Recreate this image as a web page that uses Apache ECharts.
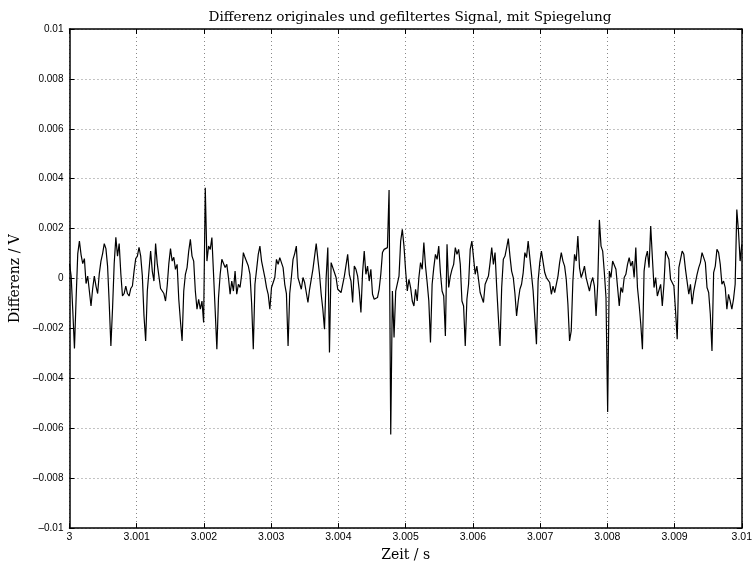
<!DOCTYPE html>
<html>
<head>
    <meta charset="utf-8">
    <title>Differenz originales und gefiltertes Signal</title>
    <script src="https://cdn.jsdelivr.net/npm/echarts@6/dist/echarts.min.js"></script>
    <style>
        html, body { margin: 0; padding: 0; background: #fff; }
    </style>
</head>
<body>
    <div id="main" style="width: 755px;height:567px;"></div>
    <script>
        // Abtastung: Startzeit, Dauer, Anzahl Intervalle
        var tStart = 3;
        var tSpan = 0.01;
        var nSteps = 406;

        // Differenz in mV, gleichmaessig abgetastet
        var diffMilliVolt = [
            0.60, 0.10, -1.30, -2.80, -0.80, 1.00, 1.50, 0.95, 0.60, 0.80,
            -0.20, 0.10, -0.50, -1.10, -0.40, 0.10, -0.30, -0.60, 0.20, 0.70,
            1.00, 1.40, 1.20, 0.50, -1.00, -2.70, -1.20, 0.60, 1.65, 0.90,
            1.40, 0.20, -0.70, -0.60, -0.30, -0.60, -0.70, -0.40, -0.30, 0.30,
            0.80, 0.90, 1.25, 0.90, 0.10, -1.50, -2.50, -0.50, 0.30, 1.10,
            0.30, -0.10, 1.40, 0.60, 0.10, -0.40, -0.50, -0.60, -0.90, -0.30,
            0.60, 1.20, 0.70, 0.85,
            0.37, 0.57, -0.83, -1.70, -2.50, -0.50,
            0.17, 0.44, 1.10, 1.57, 0.90, 0.70, -0.50, -1.23, -0.83, -1.23,
            -0.90, -1.76, 3.64, 0.70, 1.30, 1.17, 1.64, 0.17, -1.30, -2.83,
            -0.76, 0.17, 0.77, 0.84, 0.44, 0.57, 0.04, -0.63, -0.10, -0.50,
            0.30, -0.63, -0.23, -0.36, 0.17, 1.04, 0.84, 0.90, 0.50, 0.17,
            -1.00, -2.83, -0.23, 0.37, 0.97, 1.30, 0.70, 0.70, 0.04, -0.36,
            -0.63, -1.23, -0.36, -0.30, 0.04, 0.77, 0.57, 0.84, 0.77, 0.44,
            -0.23, -0.60, -2.70, -0.60, 0.04, 0.77, 1.00, 1.30, 0.04, 0.10,
            -0.43, 0.04, -0.16, -0.56, -0.96, -0.43, -0.03, 0.37, 0.44, 1.40,
            0.77, 0.17, -0.63, -1.23, -2.03, 0.04, 1.24, -2.96, 0.64, 0.57,
            0.24, 0.04, -0.43, -0.50, -0.56, -0.23, 0.10, 0.04, 0.97, 0.17,
            -0.10, -0.96, 0.50, 0.37, 0.10, -0.50, -1.36, 0.24, 1.10, 0.17,
            0.50, -0.10, 0.37, -0.63, -0.83, -0.83, -0.76, -0.43, 0.17, 1.04,
            1.17, 1.17, 1.24, 3.55, -6.25, -0.50, -2.36, -0.50, -0.43, 0.10,
            1.50, 1.97, 1.30, 0.30, -0.50, -0.03, -0.36, -0.90, -1.10, -0.43,
            -0.90, 0.04, 0.64, 0.37, 1.44, 0.50, -0.16, -0.90, -2.56, -0.23,
            0.44, 0.97, 0.77, 1.30, 0.24, -0.50, -0.70, -2.30, 1.37, -0.36,
            0.10, 0.37, 0.57, 1.24, 0.97, 1.17, 0.57, -0.90, -1.10, -2.70,
            -0.83, -0.23, 1.17, 1.50, 1.44, 0.17, 0.50, -0.03, -0.56, -0.76,
            -0.96, -0.23, -0.23, 0.10, 0.64, 1.24, 0.57, 1.04, -0.36, -1.56,
            -2.70, -0.36, 0.77, 0.90, 1.24, 1.60, 0.90, 0.30, 0.04, -0.60,
            -1.50, -0.90, -0.43, -0.23, 0.24, 1.04, 0.84, 1.50, 0.84, 0.84,
            -0.50, -1.56, -2.63, -0.10, 0.64, 1.10, 1.17, 0.24, 0.04, 0.10,
            -0.16, -0.63, -0.30, -0.56, -0.23, 0.10, 0.64, 1.04, 0.70, 0.50,
            -0.03, -1.03, -2.50, -2.10, -0.10, 0.97, 0.70, 1.70, 0.44, 0.04,
            0.24, 0.50, 0.04, -0.23, -0.50, -0.16, 0.04, -0.30, -1.50, -0.23,
            2.35, 1.30, 1.10, 0.24, -0.76, -5.35, 0.30, 0.04, 0.70, 0.77,
            0.37, -0.36, -1.10, -0.36, -0.56, 0.04, 0.17, 0.57, 0.84, 0.50,
            0.70, 0.04, 1.24, -0.36, -1.03, -1.83, -2.83, 0.30, 0.84, 1.10,
            0.44, 2.10, 0.84, -0.36, 0.04, -0.70, -0.63, -0.23, -1.10, -0.23,
            1.10, 1.17, 0.77, -0.03, 0.04, -0.30, -1.30, -2.43, 0.44, 0.77,
            1.10, 0.97, 0.37, 0.44, -0.63, -0.23, -1.03, -0.50, -0.56, 0.17,
            0.44, 0.64, 1.04, 0.84, 0.64, -0.36, -0.56, -1.43, -2.90, 0.24,
            0.50, 1.17, 1.04, 0.57, -0.23, -0.10, -0.36, -1.23, -0.63, -0.90,
            -1.23, -0.83, -0.23, 2.77, 1.90, 0.70, 1.37
        ];

        var xTicks = { min: 3, max: 3.01, step: 0.001 };
        var yTicks = { min: -0.01, max: 0.01, step: 0.002 };

        var points = [];
        for (var i = 0; i < diffMilliVolt.length; i++) {
            points.push([tStart + i * tSpan / nSteps, diffMilliVolt[i] / 1000]);
        }

        var fmt = function (v) {
            return String(parseFloat(v.toFixed(4))).replace('-', '\u2013');
        };

        var serif = 'DejaVu Serif';
        var sans = 'Liberation Sans';

        var myChart = echarts.init(document.getElementById('main'));
        var option = {
            animation: false,
            backgroundColor: '#fff',
            title: {
                text: 'Differenz originales und gefiltertes Signal, mit Spiegelung',
                left: 405,
                top: 5,
                textAlign: 'center',
                textStyle: { fontFamily: serif, fontSize: 13.6, fontWeight: 'normal', color: '#000' }
            },
            grid: { left: 69, right: 10, top: 29, bottom: 34, show: false },
            xAxis: [
                {
                    type: 'value',
                    position: 'bottom',
                    min: xTicks.min, max: xTicks.max, interval: xTicks.step,
                    name: 'Zeit / s',
                    nameLocation: 'middle',
                    nameGap: 15,
                    nameTextStyle: { fontFamily: serif, fontSize: 14, color: '#000' },
                    axisLine: { onZero: false, lineStyle: { color: '#000', width: 1.5 } },
                    axisTick: { inside: true, length: 5, lineStyle: { color: '#000' } },
                    axisLabel: { formatter: fmt, margin: 4, fontFamily: sans, fontSize: 10.5, color: '#000', showMaxLabel: true, showMinLabel: true },
                    splitLine: { show: true, lineStyle: { color: '#888', type: [1, 3], width: 1 } }
                },
                {
                    type: 'value',
                    position: 'top',
                    min: xTicks.min, max: xTicks.max, interval: xTicks.step,
                    axisLine: { onZero: false, lineStyle: { color: '#000', width: 1.5 } },
                    axisTick: { inside: true, length: 5, lineStyle: { color: '#000' } },
                    axisLabel: { show: false },
                    splitLine: { show: false }
                }
            ],
            yAxis: [
                {
                    type: 'value',
                    position: 'left',
                    min: yTicks.min, max: yTicks.max, interval: yTicks.step,
                    name: 'Differenz / V',
                    nameLocation: 'middle',
                    nameGap: 44,
                    nameTextStyle: { fontFamily: serif, fontSize: 14, color: '#000' },
                    axisLine: { onZero: false, lineStyle: { color: '#000', width: 1.5 } },
                    axisTick: { inside: true, length: 5, lineStyle: { color: '#000' } },
                    axisLabel: { formatter: fmt, margin: 6, fontFamily: sans, fontSize: 10, color: '#000' },
                    splitLine: { show: true, lineStyle: { color: '#888', type: [1, 3], width: 1 } }
                },
                {
                    type: 'value',
                    position: 'right',
                    min: yTicks.min, max: yTicks.max, interval: yTicks.step,
                    axisLine: { onZero: false, lineStyle: { color: '#000', width: 1.5 } },
                    axisTick: { inside: true, length: 5, lineStyle: { color: '#000' } },
                    axisLabel: { show: false },
                    splitLine: { show: false }
                }
            ],
            series: [
                {
                    name: 'Differenz',
                    type: 'line',
                    xAxisIndex: 0,
                    yAxisIndex: 0,
                    data: points,
                    showSymbol: false,
                    symbol: 'none',
                    lineStyle: { color: '#000', width: 1.2 }
                }
            ]
        };
        myChart.setOption(option);
    </script>
</body>
</html>
